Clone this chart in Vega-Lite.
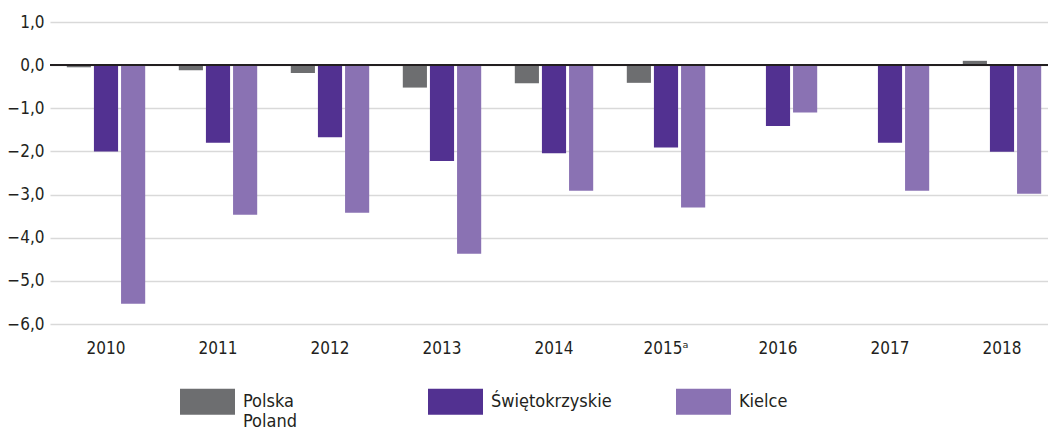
{
  "$schema": "https://vega.github.io/schema/vega-lite/v6.json",
  "width": 998,
  "height": 302,
  "autosize": {"type": "none"},
  "padding": {"left": 50, "top": 22, "right": 0, "bottom": 107},
  "config": {
    "font": "DejaVu Sans Condensed",
    "view": {"stroke": null}
  },
  "data": {
    "values": [
      {"year": "2010", "series": "Polska", "value": -0.05},
      {"year": "2010", "series": "Świętokrzyskie", "value": -2.0},
      {"year": "2010", "series": "Kielce", "value": -5.53},
      {"year": "2011", "series": "Polska", "value": -0.12},
      {"year": "2011", "series": "Świętokrzyskie", "value": -1.8},
      {"year": "2011", "series": "Kielce", "value": -3.47},
      {"year": "2012", "series": "Polska", "value": -0.18},
      {"year": "2012", "series": "Świętokrzyskie", "value": -1.67},
      {"year": "2012", "series": "Kielce", "value": -3.42},
      {"year": "2013", "series": "Polska", "value": -0.52},
      {"year": "2013", "series": "Świętokrzyskie", "value": -2.22},
      {"year": "2013", "series": "Kielce", "value": -4.37},
      {"year": "2014", "series": "Polska", "value": -0.42},
      {"year": "2014", "series": "Świętokrzyskie", "value": -2.04},
      {"year": "2014", "series": "Kielce", "value": -2.91},
      {"year": "2015", "series": "Polska", "value": -0.41},
      {"year": "2015", "series": "Świętokrzyskie", "value": -1.91},
      {"year": "2015", "series": "Kielce", "value": -3.3},
      {"year": "2016", "series": "Polska", "value": 0.0},
      {"year": "2016", "series": "Świętokrzyskie", "value": -1.41},
      {"year": "2016", "series": "Kielce", "value": -1.1},
      {"year": "2017", "series": "Polska", "value": 0.0},
      {"year": "2017", "series": "Świętokrzyskie", "value": -1.8},
      {"year": "2017", "series": "Kielce", "value": -2.91},
      {"year": "2018", "series": "Polska", "value": 0.1},
      {"year": "2018", "series": "Świętokrzyskie", "value": -2.01},
      {"year": "2018", "series": "Kielce", "value": -2.98}
    ]
  },
  "layer": [
    {
      "mark": {"type": "bar"},
      "encoding": {
        "x": {
          "field": "year",
          "type": "nominal",
          "sort": null,
          "scale": {"range": [0, 1008], "paddingInner": 0.3, "paddingOuter": 0.15},
          "axis": {
            "title": null,
            "domain": false,
            "ticks": false,
            "labelAngle": 0,
            "labelFontSize": 17,
            "labelColor": "#231f20",
            "labelPadding": 16,
            "labelExpr": "datum.value == '2015' ? '2015ᵃ' : datum.value"
          }
        },
        "xOffset": {
          "field": "series",
          "type": "nominal",
          "scale": {"domain": ["Polska", "Świętokrzyskie", "Kielce"], "paddingInner": 0.11, "paddingOuter": 0}
        },
        "y": {
          "field": "value",
          "type": "quantitative",
          "scale": {"domain": [-6, 1], "nice": false, "zero": false},
          "axis": {
            "title": null,
            "domain": false,
            "ticks": false,
            "values": [1, 0, -1, -2, -3, -4, -5, -6],
            "labelFontSize": 17,
            "labelColor": "#231f20",
            "labelPadding": 6,
            "gridColor": "#d9d9d9",
            "gridWidth": 1.5,
            "labelExpr": "replace(format(datum.value, '.1f'), '.', ',')"
          }
        },
        "color": {
          "field": "series",
          "type": "nominal",
          "scale": {
            "domain": ["Polska", "Świętokrzyskie", "Kielce"],
            "range": ["#6d6e70", "#523191", "#8a72b3"]
          },
          "legend": {
            "title": null,
            "orient": "none",
            "legendX": 130,
            "legendY": 352,
            "direction": "horizontal",
            "columns": 3,
            "gridAlign": "all",
            "columnPadding": 64,
            "symbolType": "M-1,-0.473H1V0.473H-1Z",
            "symbolSize": 3025,
            "symbolStrokeWidth": 0,
            "symbolOpacity": 1,
            "labelFontSize": 18,
            "labelLineHeight": 16,
            "labelColor": "#231f20",
            "labelOffset": 8,
            "labelExpr": "datum.label == 'Polska' ? ['Polska', 'Poland'] : [datum.label, '']"
          }
        }
      }
    },
    {
      "mark": {"type": "rule", "color": "#231f20", "strokeWidth": 1.5},
      "encoding": {"y": {"datum": 0, "type": "quantitative"}}
    }
  ]
}
